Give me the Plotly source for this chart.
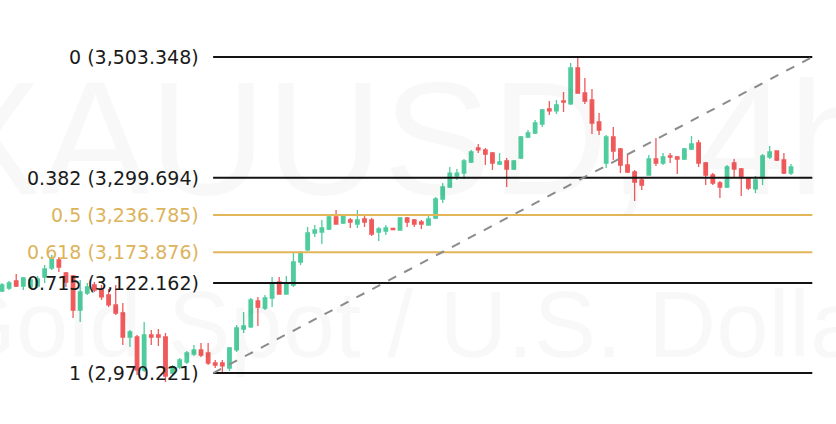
import plotly.graph_objects as go

# XAUUSD 4h candles (price)
opens = [3108.6, 3113.6, 3125.5, 3117.0, 3115.3, 3117.0, 3132.2, 3147.4, 3160.9, 3139.0,
         3133.9, 3076.5, 3105.2, 3118.7, 3110.3, 3101.8, 3085.0, 3071.5, 3031.0, 3031.0,
         2975.3, 3034.4, 3034.4, 3031.0, 2970.2, 2980.4, 2988.8, 3002.3, 3009.1, 3004.0,
         2987.1, 2987.1, 2978.7, 3009.1, 3044.5, 3047.9, 3091.7, 3079.9, 3096.8, 3123.8,
         3103.5, 3118.7, 3157.5, 3177.8, 3206.4, 3208.1, 3213.2, 3233.4, 3223.3, 3228.4,
         3221.6, 3230.0, 3228.4, 3208.1, 3209.8, 3214.0, 3211.5, 3231.7, 3228.4, 3225.0,
         3219.9, 3231.7, 3263.8, 3284.0, 3302.6, 3307.6, 3326.2, 3349.8, 3346.5, 3341.4,
         3322.8, 3327.9, 3314.4, 3332.9, 3368.4, 3375.1, 3390.3, 3415.6, 3412.3, 3429.1,
         3424.1, 3484.8, 3442.6, 3430.8, 3393.7, 3324.5, 3368.4, 3348.1, 3321.1, 3309.3,
         3295.9, 3304.3, 3331.3, 3324.5, 3336.3, 3334.6, 3331.3, 3348.1, 3358.3, 3324.5,
         3304.3, 3290.8, 3284.0, 3324.5, 3314.4, 3299.2, 3280.7, 3299.2, 3334.6, 3344.8,
         3329.6, 3307.6]
highs = [3122.1, 3125.5, 3137.3, 3132.2, 3132.2, 3133.9, 3152.4, 3169.3, 3165.9, 3140.6,
         3135.6, 3127.1, 3122.1, 3123.8, 3118.7, 3112.0, 3118.7, 3088.4, 3042.8, 3034.4,
         3056.3, 3042.8, 3044.5, 3037.7, 2983.7, 2995.5, 3007.4, 3017.5, 3020.8, 3020.8,
         2992.2, 2992.2, 3014.1, 3051.3, 3073.2, 3096.8, 3098.5, 3101.8, 3132.2, 3132.2,
         3133.9, 3172.7, 3176.1, 3216.5, 3219.9, 3228.4, 3236.8, 3245.2, 3238.5, 3231.7,
         3245.2, 3236.8, 3231.7, 3216.5, 3219.9, 3214.9, 3233.4, 3233.4, 3230.0, 3228.4,
         3235.1, 3267.2, 3290.8, 3317.8, 3314.4, 3331.3, 3346.5, 3356.6, 3349.8, 3343.1,
         3341.4, 3332.9, 3329.6, 3370.1, 3380.2, 3397.1, 3415.6, 3429.1, 3430.8, 3444.3,
         3493.2, 3503.3, 3467.9, 3449.4, 3408.9, 3371.8, 3385.3, 3349.8, 3339.7, 3312.7,
         3299.2, 3338.0, 3366.7, 3341.4, 3341.4, 3336.3, 3349.8, 3370.1, 3363.3, 3326.2,
         3307.6, 3294.2, 3321.1, 3331.3, 3316.1, 3300.9, 3302.6, 3339.7, 3353.2, 3344.8,
         3341.4, 3322.8]
lows = [3106.9, 3110.3, 3115.3, 3110.3, 3112.0, 3113.6, 3122.1, 3144.0, 3140.6, 3115.3,
        3063.0, 3056.3, 3101.8, 3106.9, 3093.4, 3081.6, 3068.1, 3017.5, 3014.1, 2966.9,
        2971.9, 3017.5, 3015.8, 2955.0, 2966.9, 2977.0, 2985.4, 2998.9, 2997.2, 2983.7,
        2978.7, 2970.2, 2973.6, 3005.7, 3037.7, 3046.2, 3049.6, 3076.5, 3081.6, 3103.5,
        3103.5, 3115.3, 3152.4, 3176.1, 3199.7, 3187.9, 3211.5, 3221.6, 3221.6, 3214.9,
        3214.9, 3216.5, 3201.4, 3192.9, 3203.1, 3211.5, 3211.5, 3216.5, 3216.5, 3213.2,
        3219.9, 3230.0, 3257.0, 3282.3, 3295.9, 3297.5, 3324.5, 3341.4, 3321.1, 3312.7,
        3321.1, 3284.0, 3312.7, 3331.3, 3366.7, 3373.4, 3385.3, 3405.5, 3407.2, 3410.6,
        3422.4, 3442.6, 3424.1, 3373.4, 3371.8, 3316.1, 3329.6, 3307.6, 3307.6, 3260.4,
        3279.0, 3304.3, 3319.5, 3321.1, 3324.5, 3306.0, 3329.6, 3346.5, 3317.8, 3287.4,
        3287.4, 3265.5, 3282.3, 3300.9, 3268.8, 3279.0, 3273.9, 3287.4, 3331.3, 3327.9,
        3306.0, 3304.3]
closes = [3118.7, 3122.1, 3117.0, 3130.5, 3127.1, 3128.8, 3145.7, 3162.6, 3149.1, 3123.8,
          3076.5, 3106.9, 3115.3, 3110.3, 3098.5, 3085.0, 3071.5, 3031.0, 3039.4, 2975.3,
          3034.4, 3031.0, 3031.0, 2965.2, 2980.4, 2992.2, 3004.0, 3009.1, 3000.6, 2987.1,
          2983.7, 2982.1, 3012.4, 3046.2, 3049.6, 3093.4, 3081.6, 3096.8, 3122.1, 3103.5,
          3122.1, 3157.5, 3172.7, 3206.4, 3211.5, 3214.9, 3233.4, 3221.6, 3236.8, 3225.0,
          3228.4, 3225.0, 3204.7, 3213.2, 3214.9, 3212.3, 3231.7, 3225.0, 3221.6, 3221.6,
          3230.0, 3263.8, 3284.0, 3307.6, 3307.6, 3327.9, 3343.1, 3346.5, 3339.7, 3324.5,
          3326.2, 3314.4, 3327.9, 3368.4, 3375.1, 3392.0, 3413.9, 3412.3, 3422.4, 3427.4,
          3484.8, 3442.6, 3429.1, 3392.0, 3380.2, 3368.4, 3344.8, 3321.1, 3309.3, 3292.5,
          3287.4, 3331.3, 3324.5, 3334.6, 3334.6, 3331.3, 3348.1, 3356.6, 3324.5, 3304.3,
          3290.8, 3284.0, 3317.8, 3314.4, 3300.9, 3282.3, 3295.9, 3336.3, 3343.1, 3329.6,
          3307.6, 3317.8]
bars = list(range(len(opens)))

# fibonacci retracement drawn from the swing low to the swing high
fib_ratios = ["0", "0.382", "0.5", "0.618", "0.715", "1"]
fib_prices = [3503.348, 3299.694, 3236.785, 3173.876, 3122.162, 2970.221]
fib_colors = ["#131313", "#131313", "#e2b558", "#e2b558", "#131313", "#131313"]
fib_text_colors = ["#1a1a1a", "#1a1a1a", "#ddb35c", "#ddb35c", "#1a1a1a", "#1a1a1a"]
fib_start, fib_end = 29.7, 114.0

fig = go.Figure()

fig.add_trace(
    go.Candlestick(
        x=bars,
        open=opens,
        high=highs,
        low=lows,
        close=closes,
        increasing=dict(line=dict(color="#4fcc9d", width=1.3), fillcolor="#4fcc9d"),
        decreasing=dict(line=dict(color="#f05a5b", width=1.3), fillcolor="#f05a5b"),
        whiskerwidth=0,
        hoverinfo="none",
    )
)

shapes = []
annotations = []
for ratio, price, col, tcol in zip(fib_ratios, fib_prices, fib_colors, fib_text_colors):
    shapes.append(
        dict(type="line", xref="x", yref="y", x0=fib_start, x1=fib_end,
             y0=price, y1=price, line=dict(color=col, width=2))
    )
    annotations.append(
        dict(xref="x", yref="y", x=fib_start, y=price, xanchor="right",
             yanchor="middle", xshift=-12, showarrow=False,
             text=ratio + " (" + f"{price:,.3f}" + ")",
             font=dict(family="DejaVu Sans", size=19, color=tcol))
    )

# dashed trend line low -> high
shapes.append(
    dict(type="line", xref="x", yref="y", x0=fib_start, x1=fib_end,
         y0=fib_prices[-1], y1=fib_prices[0],
         line=dict(color="#8c8c8c", width=2, dash="dash"))
)

# faint watermark behind everything
annotations = [
    dict(xref="paper", yref="paper", x=0.485, y=0.675, xanchor="center", yanchor="middle",
         showarrow=False, text="XAUUSD, 4h",
         font=dict(family="Liberation Sans", size=162, color="rgba(0,0,0,0.028)")),
    dict(xref="paper", yref="paper", x=0.5, y=0.235, xanchor="center", yanchor="middle",
         showarrow=False, text="Gold Spot / U.S. Dollar",
         font=dict(family="Liberation Sans", size=94, color="rgba(0,0,0,0.028)")),
] + annotations

fig.update_layout(
    width=836,
    height=424,
    margin=dict(l=0, r=0, t=0, b=0),
    paper_bgcolor="white",
    plot_bgcolor="white",
    showlegend=False,
    shapes=shapes,
    annotations=annotations,
    xaxis=dict(range=[-0.28, 117.33], visible=False, rangeslider=dict(visible=False),
               fixedrange=True),
    yaxis=dict(range=[2884.2, 3599.5], visible=False, fixedrange=True),
)

fig.write_html(
    "out.html",
    config={"displayModeBar": False},
    post_script="document.body.style.margin='0';document.body.style.overflow='hidden';",
)
